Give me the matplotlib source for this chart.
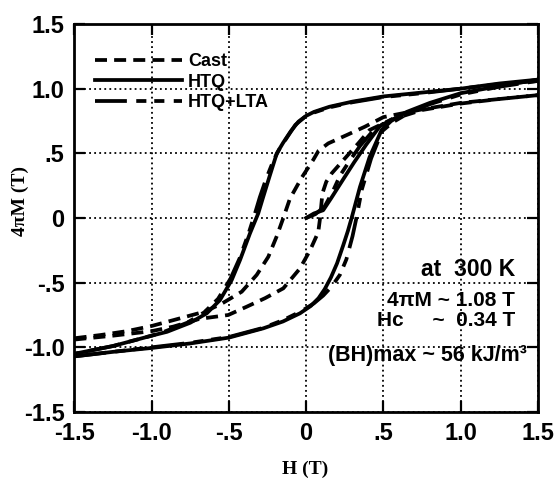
import matplotlib
matplotlib.use("Agg")
import matplotlib.pyplot as plt
import numpy as np

# ---- data (H in T, 4piM in T) ----
cast_down_h = [1.5, 1.25, 1.0, 0.75, 0.5, 0.38, 0.26, 0.143, 0.08, 0.046, -0.03, -0.105, -0.148,
               -0.19, -0.245, -0.32, -0.417, -0.55, -0.66, -0.86, -1.0, -1.16, -1.33, -1.5]
cast_down_m = [0.95, 0.92, 0.89, 0.84, 0.78, 0.706, 0.64, 0.577, 0.52, 0.45, 0.31, 0.15, 0.0,
               -0.14, -0.30, -0.44, -0.57, -0.665, -0.725, -0.79, -0.835, -0.875, -0.905, -0.93]
cast_up_h = [-1.5, -1.25, -1.0, -0.86, -0.69, -0.504, -0.385, -0.266, -0.148, -0.04, 0.025,
             0.078, 0.09, 0.105, 0.13, 0.165, 0.27, 0.337, 0.41, 0.55, 0.75, 1.0, 1.25, 1.5]
cast_up_m = [-0.94, -0.91, -0.875, -0.84, -0.78, -0.75, -0.686, -0.62, -0.544, -0.39, -0.25,
             -0.11, 0.0, 0.19, 0.28, 0.345, 0.487, 0.577, 0.68, 0.76, 0.835, 0.885, 0.92, 0.95]

htq_down_h = [1.5, 1.25, 1.0, 0.75, 0.5, 0.3, 0.15, 0.05, 0.0, -0.05, -0.1, -0.15, -0.19, -0.24,
              -0.28, -0.31, -0.364, -0.428, -0.482, -0.558, -0.643, -0.75, -0.9, -1.0, -1.25, -1.5]
htq_down_m = [1.07, 1.04, 1.0, 0.97, 0.94, 0.90, 0.86, 0.82, 0.79, 0.745, 0.67, 0.58, 0.50, 0.31,
              0.155, 0.036, -0.12, -0.325, -0.48, -0.635, -0.737, -0.81, -0.88, -0.91, -0.99, -1.05]
htq_up_h = [-1.5, -1.25, -1.0, -0.75, -0.5, -0.277, -0.15, -0.04, 0.03, 0.08, 0.12, 0.16, 0.20,
            0.24, 0.27, 0.294, 0.348, 0.41, 0.488, 0.55, 0.65, 0.8, 1.0, 1.25, 1.5]
htq_up_m = [-1.07, -1.035, -1.005, -0.97, -0.925, -0.853, -0.80, -0.737, -0.68, -0.62, -0.55,
            -0.46, -0.35, -0.21, -0.10, 0.0, 0.24, 0.47, 0.68, 0.75, 0.82, 0.89, 0.965, 1.02, 1.07]
htq_init_h = [0.0, 0.05, 0.11, 0.16, 0.24, 0.31, 0.39, 0.477, 0.55]
htq_init_m = [0.0, 0.035, 0.06, 0.15, 0.30, 0.43, 0.57, 0.71, 0.76]

lta_down_h = [1.5, 1.25, 1.0, 0.75, 0.5, 0.3, 0.15, 0.05, -0.01, -0.07, -0.12, -0.17, -0.21,
              -0.26, -0.30, -0.33, -0.37, -0.43, -0.49, -0.57, -0.66, -0.77, -0.92, -1.0, -1.25, -1.5]
lta_down_m = [1.06, 1.035, 1.0, 0.965, 0.935, 0.895, 0.855, 0.815, 0.78, 0.72, 0.63, 0.54, 0.45,
              0.30, 0.16, 0.04, -0.11, -0.31, -0.47, -0.625, -0.73, -0.81, -0.88, -0.91, -0.99, -1.05]
lta_up_h = [-1.5, -1.25, -1.0, -0.75, -0.5, -0.28, -0.15, -0.03, 0.05, 0.11, 0.165, 0.218, 0.26,
            0.30, 0.325, 0.36, 0.42, 0.49, 0.56, 0.66, 0.8, 1.0, 1.25, 1.5]
lta_up_m = [-1.07, -1.035, -1.0, -0.965, -0.92, -0.85, -0.79, -0.72, -0.66, -0.60, -0.53, -0.44,
            -0.32, -0.14, 0.0, 0.22, 0.46, 0.67, 0.74, 0.81, 0.88, 0.955, 1.015, 1.06]
lta_init_h = [0.0, 0.06, 0.12, 0.17, 0.22, 0.28, 0.35, 0.43, 0.5]
lta_init_m = [0.0, 0.03, 0.09, 0.2, 0.33, 0.44, 0.56, 0.67, 0.73]

tick_vals = [-1.5, -1.0, -0.5, 0.0, 0.5, 1.0, 1.5]
tick_text = ['-1.5', '-1.0', '-.5', '0', '.5', '1.0', '1.5']
notes = ['at  300 K', '4\u03c0M ~ 1.08 T', 'Hc     ~  0.34 T', '(BH)max ~ 56 kJ/m\u00b3']

sans = 'Liberation Sans'
serif = 'Liberation Serif'

fig = plt.figure(figsize=(5.58, 4.79), dpi=100)
ax = fig.add_axes([0.1332, 0.1399, 0.8310, 0.8100])

lw = 2.7
cast_ls = (0, (3.2, 1.9))
lta_ls = (0, (8.5, 2.5, 2.7, 2.1, 2.7, 2.5))

ax.plot(cast_down_h, cast_down_m, color='black', lw=lw, ls=cast_ls, label='Cast')
ax.plot(cast_up_h, cast_up_m, color='black', lw=lw, ls=cast_ls)

ax.plot(htq_down_h, htq_down_m, color='black', lw=lw, ls='-', label='HTQ')
ax.plot(htq_up_h, htq_up_m, color='black', lw=lw, ls='-')
ax.plot(htq_init_h, htq_init_m, color='black', lw=lw, ls='-')

ax.plot(lta_down_h, lta_down_m, color='black', lw=lw, ls=lta_ls, label='HTQ+LTA')
ax.plot(lta_up_h, lta_up_m, color='black', lw=lw, ls=lta_ls)
ax.plot(lta_init_h, lta_init_m, color='black', lw=lw, ls=lta_ls)

ax.set_xlim(-1.5, 1.5)
ax.set_ylim(-1.5, 1.5)
ax.set_xticks(tick_vals)
ax.set_yticks(tick_vals)
ax.set_xticklabels(tick_text, fontfamily=sans, fontweight='bold', fontsize=17)
ax.set_yticklabels(tick_text, fontfamily=sans, fontweight='bold', fontsize=17)
ax.tick_params(direction='in', length=8, width=1.6, top=True, right=True, pad=7)

ax.grid(True, color='black', lw=1.3, ls=(0, (1, 1.8)))
for s in ax.spines.values():
    s.set_linewidth(2.0)

ax.set_xlabel('H (T)', fontfamily=serif, fontweight='bold', fontsize=14, va='center')
ax.set_ylabel('4\u03c0M (T)', fontfamily=serif, fontweight='bold', fontsize=14, va='center')
ax.xaxis.set_label_coords(0.4975, -0.149)
ax.yaxis.set_label_coords(-0.117, 0.544)

ax.legend(loc='upper left', bbox_to_anchor=(0.045, 0.925), frameon=False, borderpad=0,
          borderaxespad=0, handlelength=4.8, handletextpad=0.35, labelspacing=0.2,
          prop={'family': sans, 'weight': 'bold', 'size': 13})

note_y = [-0.40, -0.635, -0.79, -1.06]
note_x = [1.351, 1.351, 1.351, 1.43]
note_size = [16.5, 15, 15, 15.5]
for t, xx, yy, fs in zip(notes, note_x, note_y, note_size):
    ax.text(xx, yy, t, ha='right', va='center', fontfamily=sans, fontweight='bold',
            fontsize=fs)

fig.savefig('out.png', dpi=100)
